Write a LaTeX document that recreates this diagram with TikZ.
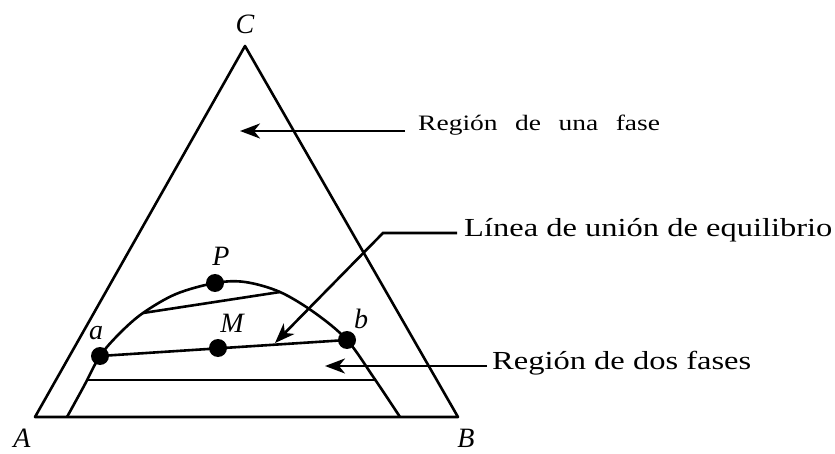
\documentclass[tikz,border=0pt]{standalone}
\usepackage{fontspec}
\setmainfont{Liberation Serif}
\usetikzlibrary{arrows.meta,positioning}
\newcommand{\widetext}[1]{\scalebox{1.25}[1]{#1}}

\begin{document}
\begin{tikzpicture}[x=1pt,y=-1pt,
    edge/.style={line width=2.6pt,line join=round},
    pointer/.style={line width=2.6pt,-{Stealth[length=20pt,width=15pt,inset=6pt]}},
    dot/.style={circle,fill=black,inner sep=0pt,minimum size=18pt},
    vlabel/.style={font=\fontsize{28}{28}\selectfont\itshape,inner sep=0pt},
    callout/.style={font=\fontsize{26}{30}\selectfont,inner sep=0pt,anchor=base west}]
  \useasboundingbox (0,0) rectangle (835,454);
  % triangle
  \coordinate (A) at (35,417);
  \coordinate (B) at (458,417);
  \coordinate (C) at (245,46);
  \draw[edge] (A) -- (C) -- (B) -- cycle;
  \node[vlabel] (lA) at (22,438) {A};
  \node[vlabel] (lB) at (466,438) {B};
  \node[vlabel] (lC) at (245,24) {C};
  % two-phase boundary
  \draw[edge] plot[smooth,tension=0.55] coordinates {(67,417) (84,386) (100,356) (120,333)
    (143,313) (176,294) (215,283) (245,282) (280,292) (315,313) (347,340) (374,378) (400,417)};
  % tie lines
  \coordinate (t1) at (143,313);
  \coordinate (t2) at (280,292);
  \coordinate (t3) at (87,380);
  \coordinate (t4) at (375,380);
  \draw[edge] (t1) -- (t2);
  \draw[edge] (t3) -- (t4);
  \node[dot] (a) at (100,356) {};
  \node[dot] (P) at (215,283) {};
  \node[dot] (M) at (218,348) {};
  \node[dot] (b) at (347,340) {};
  \draw[edge] (a.center) -- (b.center);
  \node[vlabel] (la) at (96,333) {a};
  \node[vlabel] (lP) at (221,256) {P};
  \node[vlabel] (lM) at (232,323) {M};
  \node[vlabel] (lb) at (361,319) {b};
  % callouts
  \node[callout,font=\fontsize{22}{26}\selectfont] (one) at (418,131)
    {\widetext{Región\hspace{14pt}de\hspace{14pt}una\hspace{14pt}fase}};
  \node[callout] (tie) at (464,237) {\widetext{Línea de unión de equilibrio}};
  \node[callout] (two) at (492,369) {\widetext{Región de dos fases}};
  \coordinate (onetip) at (240,131);
  \coordinate (bend) at (383,233);
  \coordinate (tietip) at (275,343);
  \coordinate (twotip) at (325,366);
  \draw[pointer] ([shift={(-13,0)}]one.base west) -- (onetip);
  \draw[pointer] ([shift={(-7,-4)}]tie.base west) -- (bend) -- (tietip);
  \draw[pointer] ([shift={(-5,-3)}]two.base west) -- (twotip);
\end{tikzpicture}
\end{document}
